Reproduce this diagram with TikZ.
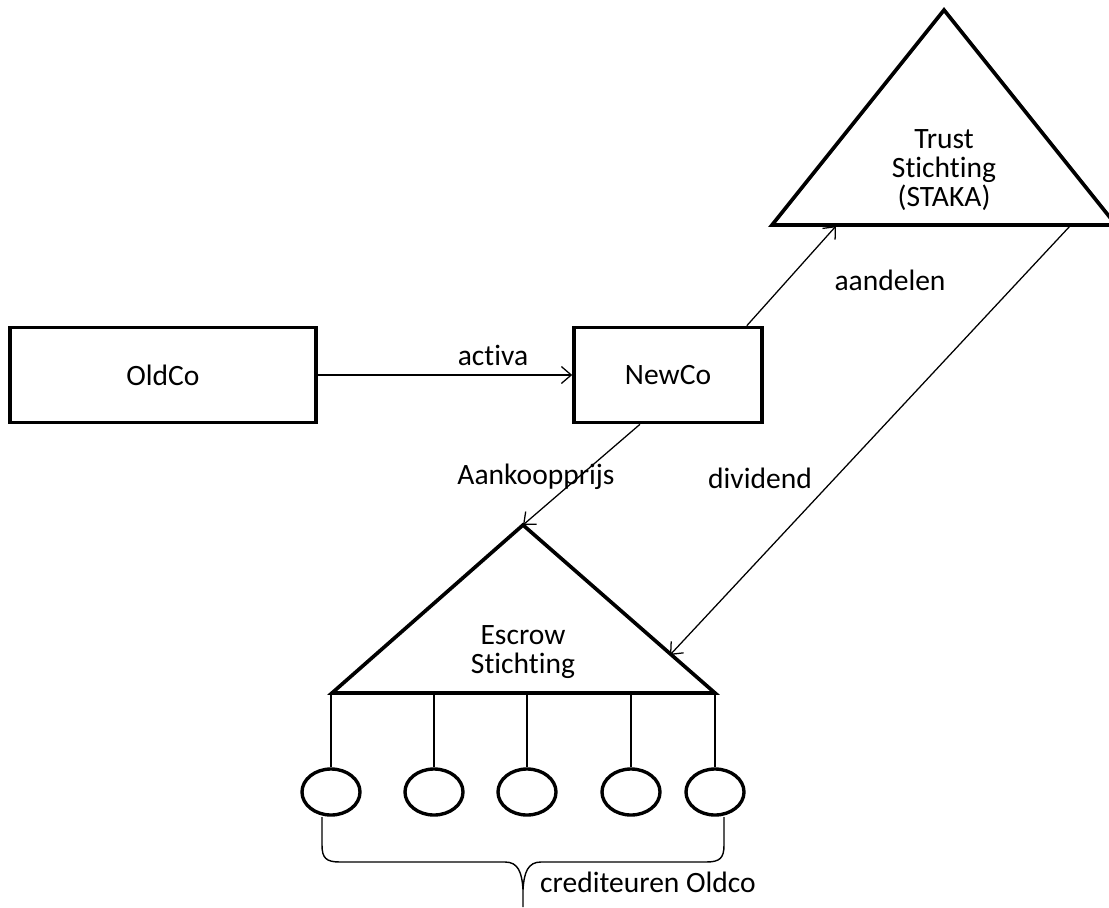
\documentclass[tikz,border=0pt]{standalone}
\usepackage{fontspec}
\setmainfont{Carlito}[RawFeature=-liga]
\usetikzlibrary{arrows.meta,shapes.geometric}

\begin{document}
\begin{tikzpicture}[x=0.025cm, y=-0.025cm, font=\fontsize{21}{20.5}\selectfont]
        \tikzstyle{stk_box}       = [shape = rectangle, draw = black, line width=2.5pt, minimum height=2.375cm]
        \tikzstyle{stk_tri}       = [draw = black, line width=2.6pt, line join=miter]
        \tikzstyle{stk_cred}      = [shape = ellipse, draw = black, line width=2.4pt, minimum width=1.45cm, minimum height=1.15cm, inner sep=0pt]
        \tikzstyle{stk_flow}      = [-{Straight Barb[length=7pt,width=12pt]}, line width=0.9pt]
        \tikzstyle{stk_text}      = [align=center, inner sep=0pt]

        \useasboundingbox (0,0) rectangle (1109,907);

        \node[stk_box, minimum width=7.65cm] at (163, 375) (oldco) {OldCo};
        \node[stk_box, minimum width=4.7cm]  at (668, 375) (newco) {NewCo};

        % trust stichting
        \coordinate (trust_top)   at (944,  10);
        \coordinate (trust_left)  at (772, 225);
        \coordinate (trust_right) at (1116, 225);
        \draw[stk_tri] (trust_top) -- (trust_right) -- (trust_left) -- cycle;
        \node[stk_text] at (944, 170) (trust) {Trust\\Stichting\\(STAKA)};
        \coordinate (trust_in)  at (836, 226);
        \coordinate (trust_out) at (1070, 226);

        % escrow stichting
        \coordinate (esc_top)   at (523, 525);
        \coordinate (esc_left)  at (332, 693);
        \coordinate (esc_right) at (715, 693);
        \draw[stk_tri] (esc_top) -- (esc_right) -- (esc_left) -- cycle;
        \node[stk_text] at (523, 652) (escrow) {Escrow\\Stichting};
        \coordinate (esc_in) at (670, 655);

        \coordinate (esc_b1) at (331, 693);
        \coordinate (esc_b2) at (434, 693);
        \coordinate (esc_b3) at (527, 693);
        \coordinate (esc_b4) at (631, 693);
        \coordinate (esc_b5) at (715, 693);

        \node[stk_cred] at (331, 792) (cred1) {};
        \node[stk_cred] at (434, 792) (cred2) {};
        \node[stk_cred] at (527, 792) (cred3) {};
        \node[stk_cred] at (631, 792) (cred4) {};
        \node[stk_cred] at (715, 792) (cred5) {};

        \draw[line width=1.2pt]
          (esc_b1) -- (cred1.north)
          (esc_b2) -- (cred2.north)
          (esc_b3) -- (cred3.north)
          (esc_b4) -- (cred4.north)
          (esc_b5) -- (cred5.north)
        ;

        \draw[stk_flow] (oldco) -- (newco);
        \draw[stk_flow] ([xshift=-0.425cm]newco.north east) -- (trust_in);
        \draw[stk_flow] ([xshift=-0.7cm]newco.south) -- (esc_top);
        \draw[stk_flow] (trust_out) -- (esc_in);

        \node at (493, 355) (l_activa)   {activa};
        \node at (890, 280) (l_aandelen) {aandelen};
        \node at (536, 477) (l_koop)     {Aankoopprijs};
        \node at (760, 478) (l_dividend) {dividend};

        % brace under the crediteuren
        \coordinate (br_left)  at (322, 817);
        \coordinate (br_right) at (724, 817);
        \coordinate (br_tip)   at (523, 907);
        \draw[line width=1pt]
          (br_left) -- (322, 845) .. controls (322, 858) and (326, 862) .. (340, 862)
          -- (505, 862) .. controls (518, 862) and (522, 872) .. (523, 890) -- (br_tip)
          (523, 890) .. controls (524, 872) and (528, 862) .. (541, 862)
          -- (706, 862) .. controls (720, 862) and (724, 858) .. (724, 845) -- (br_right)
        ;
        \node at (648, 882) (l_cred) {crediteuren Oldco};
      \end{tikzpicture}
\end{document}
